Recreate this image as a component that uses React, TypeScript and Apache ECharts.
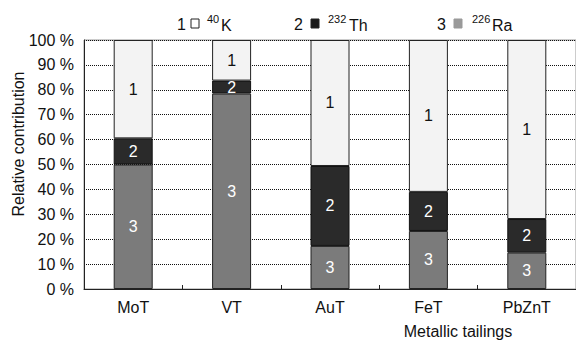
import React, { useEffect, useRef } from "react";
import * as echarts from "echarts";

const categories = ["MoT", "VT", "AuT", "FeT", "PbZnT"];
const ra226 = [50, 78.5, 17.3, 23.3, 14.6];
const th232 = [10.5, 5.2, 32.1, 15.7, 13.5];
const k40 = [39.5, 16.3, 50.6, 61, 71.9];
const yTicks = { min: 0, max: 100, interval: 10 };

const FONT = "Liberation Sans, Arial, Helvetica, sans-serif";

export default function App() {
  const ref = useRef<HTMLDivElement>(null);
  useEffect(() => {
    if (!ref.current) return;
    const chart = echarts.init(ref.current, null, { renderer: "svg" });
    const labelStyle = (color: string, text: string) => ({
      show: true,
      position: "inside",
      color,
      fontSize: 16,
      fontFamily: FONT,
      formatter: () => text,
    });
    const barBase = {
      type: "bar",
      stack: "total",
      barWidth: 39,
      emphasis: { disabled: true },
    };
    const legendItem = (
      num: string,
      nx: number,
      sqx: number,
      sqFill: string,
      sup: string,
      supx: number,
      name: string,
      namex: number
    ) => [
      {
        type: "text",
        x: nx,
        y: 24,
        style: { text: num, fontSize: 16, fontFamily: FONT, fill: "#111", verticalAlign: "middle" },
      },
      {
        type: "rect",
        shape: { x: sqx, y: 19, width: 8, height: 9 },
        style: { fill: sqFill, stroke: num === "3" ? "#999" : "#222", lineWidth: 1 },
      },
      {
        type: "text",
        x: supx,
        y: 19,
        style: { text: sup, fontSize: 11, fontFamily: FONT, fill: "#111", verticalAlign: "middle" },
      },
      {
        type: "text",
        x: namex,
        y: 25,
        style: { text: name, fontSize: 16, fontFamily: FONT, fill: "#111", verticalAlign: "middle" },
      },
    ];
    chart.setOption({
      animation: false,
      textStyle: { fontFamily: FONT },
      grid: {
        left: 84,
        top: 40,
        right: -2,
        bottom: 51,
        show: true,
        borderColor: "#999",
        borderWidth: 1,
      },
      xAxis: {
        type: "category",
        data: categories,
        axisLine: { show: true, lineStyle: { color: "#222", width: 1 } },
        axisTick: { show: true, inside: true, length: 4, lineStyle: { color: "#222" } },
        axisLabel: { color: "#111", fontSize: 16, fontFamily: FONT, margin: 10 },
        splitLine: { show: false },
      },
      yAxis: {
        type: "value",
        min: yTicks.min,
        max: yTicks.max,
        interval: yTicks.interval,
        axisLine: { show: true, lineStyle: { color: "#222", width: 1 } },
        axisTick: { show: false },
        axisLabel: {
          color: "#111",
          fontSize: 16,
          fontFamily: FONT,
          margin: 10,
          formatter: (v: number) => `${v} %`,
        },
        splitLine: { show: true, lineStyle: { color: "#111", type: [1, 1], width: 1 } },
      },
      series: [
        {
          ...barBase,
          name: "226Ra",
          data: ra226,
          itemStyle: { color: "#7b7b7b", borderColor: "#222", borderWidth: 1 },
          label: labelStyle("#fff", "3"),
        },
        {
          ...barBase,
          name: "232Th",
          data: th232,
          itemStyle: { color: "#2a2a2a", borderColor: "#111", borderWidth: 1 },
          label: labelStyle("#fff", "2"),
        },
        {
          ...barBase,
          name: "40K",
          data: k40,
          itemStyle: { color: "#f3f3f3", borderColor: "#222", borderWidth: 1 },
          label: labelStyle("#111", "1"),
        },
      ],
      graphic: [
        ...legendItem("1", 177, 191, "#fff", "40", 207, "K", 221),
        ...legendItem("2", 294, 311, "#1a1a1a", "232", 328, "Th", 349),
        ...legendItem("3", 437, 454, "#9a9a9a", "226", 472, "Ra", 492),
        {
          type: "text",
          x: 18,
          y: 144,
          rotation: Math.PI / 2,
          style: {
            text: "Relative contribution",
            fontSize: 16,
            fontFamily: FONT,
            fill: "#111",
            align: "center",
            verticalAlign: "middle",
          },
        },
        {
          type: "text",
          x: 458,
          y: 331,
          style: {
            text: "Metallic tailings",
            fontSize: 16,
            fontFamily: FONT,
            fill: "#111",
            align: "center",
            verticalAlign: "middle",
          },
        },
      ],
    });
    return () => chart.dispose();
  }, []);
  return (
    <div
      ref={ref}
      style={{ position: "fixed", left: 0, top: 0, width: 576, height: 340, background: "#fff" }}
    />
  );
}
